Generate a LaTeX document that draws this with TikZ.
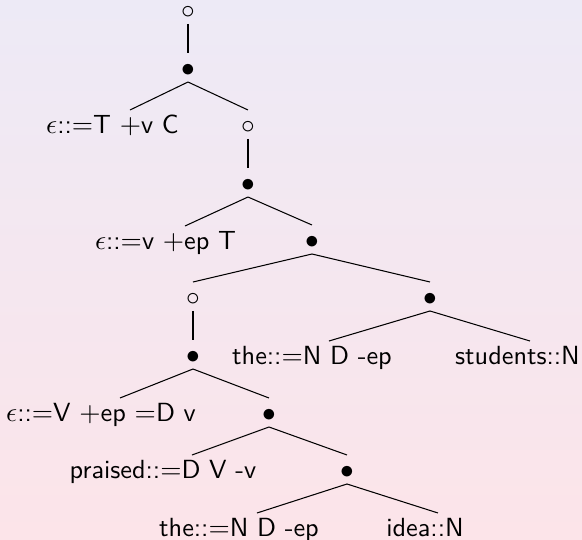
\documentclass[tikz,border=0pt]{standalone}
\usetikzlibrary{calc}
\definecolor{bgtop}{RGB}{237,234,246}
\definecolor{bgbot}{RGB}{252,228,233}
\tikzset{
  lbl/.style={anchor=base,inner sep=0pt,outer sep=0pt,font=\fontsize{10.5}{12.6}\selectfont\sffamily},
  leaf/.style={lbl},
  dot/.style={lbl},
  edgeline/.style={draw=black,line width=0.42pt}
}
\newcommand\treeedge[3]{\draw[edgeline] ($(#1.base)+(0,5.5)$) -- ($(#2.base)+(#3,-23.5)$);}
\begin{document}
\begin{tikzpicture}[x=0.4pt,y=-0.4pt]
\shade[top color=bgtop,bottom color=bgbot] (0,0) rectangle (582,540);
\useasboundingbox (0,0) rectangle (582,540);
% rows: 12,70,127,185,242,299,357,415,472,530 ; baseline = row+6.5
\node[dot] (r0) at (188,18.5) {$\circ$};
\node[dot] (b1) at (188,76.5) {$\bullet$};
\node[leaf] (t1) at (112.5,133.5) {$\epsilon$::$=$T $+$v C};
\node[dot] (c2) at (248,133.5) {$\circ$};
\node[dot] (b2) at (248,191.5) {$\bullet$};
\node[leaf] (t2) at (165.5,249.5) {$\epsilon$::$=$v $+$ep T};
\node[dot] (b3) at (312,248.5) {$\bullet$};
\node[dot] (c4) at (193,305.5) {$\circ$};
\node[dot] (b5) at (430,305.5) {$\bullet$};
\node[dot] (b4) at (193,363.5) {$\bullet$};
\node[leaf] (t3) at (312,364.5) {the::$=$N D -ep};
\node[leaf] (t4) at (517.5,364.5) {students::N};
\node[leaf] (t5) at (101,421.5) {$\epsilon$::$=$V $+$ep $=$D v};
\node[dot] (b6) at (269,421.5) {$\bullet$};
\node[leaf] (t6) at (163,478.5) {praised::$=$D V -v};
\node[dot] (b7) at (347,478.5) {$\bullet$};
\node[leaf] (t7) at (239,536.5) {the::$=$N D -ep};
\node[leaf] (t8) at (425,536.5) {idea::N};
% edges
\treeedge{r0}{b1}{0}
\treeedge{b1}{t1}{17.5}
\treeedge{b1}{c2}{0}
\treeedge{c2}{b2}{0}
\treeedge{b2}{t2}{19.5}
\treeedge{b2}{b3}{0}
\treeedge{b3}{c4}{0}
\treeedge{b3}{b5}{0}
\treeedge{c4}{b4}{0}
\treeedge{b5}{t3}{17}
\treeedge{b5}{t4}{12.5}
\treeedge{b4}{t5}{19}
\treeedge{b4}{b6}{0}
\treeedge{b6}{t6}{29}
\treeedge{b6}{b7}{0}
\treeedge{b7}{t7}{18}
\treeedge{b7}{t8}{13}
\end{tikzpicture}
\end{document}
